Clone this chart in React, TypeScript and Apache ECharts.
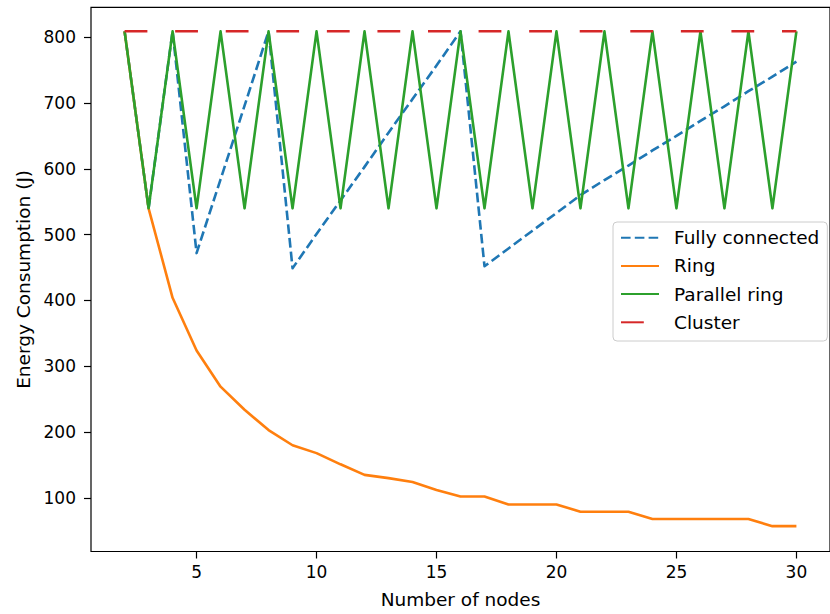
import React, { useEffect, useRef } from "react";
import * as echarts from "echarts";

const nodes = [2, 3, 4, 5, 6, 7, 8, 9, 10, 11, 12, 13, 14, 15, 16, 17, 18, 19, 20, 21, 22, 23, 24, 25, 26, 27, 28, 29, 30];
const fullyConnected = [809, 540, 809, 472, 584, 696, 809, 449, 501, 552, 603, 655, 706, 757, 809, 452, 479, 506, 533, 560, 583, 605, 628, 650, 673, 695, 718, 740, 763];
const ring = [809, 540, 404, 324, 269, 234, 203, 180, 168, 151, 135, 130, 124, 112, 102, 102, 90, 90, 90, 79, 79, 79, 68, 68, 68, 68, 68, 57, 57];
const parallelRing = [809, 540, 809, 540, 809, 540, 809, 540, 809, 540, 809, 540, 809, 540, 809, 540, 809, 540, 809, 540, 809, 540, 809, 540, 809, 540, 809, 540, 809];
const cluster = [809, 809, 809, 809, 809, 809, 809, 809, 809, 809, 809, 809, 809, 809, 809, 809, 809, 809, 809, 809, 809, 809, 809, 809, 809, 809, 809, 809, 809];
const xTicks = [5, 10, 15, 20, 25, 30];
const yTicks = [100, 200, 300, 400, 500, 600, 700, 800];
const seriesNames = ["Fully connected", "Ring", "Parallel ring", "Cluster"];

const FONT = "DejaVu Sans";

export default function App() {
  const ref = useRef<HTMLDivElement>(null);
  useEffect(() => {
    if (!ref.current) return;
    const chart = echarts.init(ref.current, undefined, { renderer: "svg" });
    const pair = (ys: number[]) => nodes.map((x, i) => [x, ys[i]]);
    const lw = 2.6;
    chart.setOption({
      animation: false,
      backgroundColor: "#ffffff",
      grid: {
        left: 91,
        top: 7.3,
        right: -7,
        bottom: 58,
        show: true,
        borderColor: "#000000",
        borderWidth: 1.2,
        backgroundColor: "transparent",
      },
      legend: {
        orient: "vertical",
        left: 613,
        top: 222,
        data: seriesNames,
        itemWidth: 38,
        itemHeight: 20,
        itemGap: 8.2,
        padding: [5.7, 8, 8.7, 7],
        backgroundColor: "rgba(255,255,255,0.8)",
        borderColor: "#cccccc",
        borderWidth: 1,
        borderRadius: 4,
        itemStyle: { opacity: 0 },
        textStyle: {
          fontFamily: FONT,
          fontSize: 18.5,
          color: "#000000",
          lineHeight: 20,
          padding: [0, 0, 0, 10],
        },
      },
      xAxis: {
        type: "value",
        min: 0.6,
        max: 31.4,
        name: "Number of nodes",
        nameLocation: "middle",
        nameGap: 38.5,
        nameTextStyle: { fontFamily: FONT, fontSize: 18.5, color: "#000000" },
        axisLine: { show: false },
        axisTick: { show: true, length: 7, customValues: xTicks, lineStyle: { color: "#000000", width: 1.2 } },
        axisLabel: { customValues: xTicks, margin: 12, fontFamily: FONT, fontSize: 17, color: "#000000" },
        splitLine: { show: false },
      },
      yAxis: {
        type: "value",
        min: 18.5,
        max: 845.5,
        name: "Energy Consumption (J)",
        nameLocation: "middle",
        nameGap: 58,
        nameTextStyle: { fontFamily: FONT, fontSize: 18.5, color: "#000000" },
        axisLine: { show: false },
        axisTick: { show: true, length: 7, customValues: yTicks, lineStyle: { color: "#000000", width: 1.2 } },
        axisLabel: { customValues: yTicks, margin: 15, fontFamily: FONT, fontSize: 17, color: "#000000" },
        splitLine: { show: false },
      },
      series: [
        {
          name: seriesNames[0],
          type: "line",
          data: pair(fullyConnected),
          symbol: "none",
          color: "#1f77b4",
          lineStyle: { width: lw, type: [9.6, 4.2], cap: "butt", join: "round" },
          z: 2,
        },
        {
          name: seriesNames[1],
          type: "line",
          data: pair(ring),
          symbol: "none",
          color: "#ff7f0e",
          lineStyle: { width: lw, type: "solid", cap: "butt", join: "round" },
          z: 3,
        },
        {
          name: seriesNames[2],
          type: "line",
          data: pair(parallelRing),
          symbol: "none",
          color: "#2ca02c",
          lineStyle: { width: lw, type: "solid", cap: "butt", join: "round" },
          z: 4,
        },
        {
          name: seriesNames[3],
          type: "line",
          data: pair(cluster),
          symbol: "none",
          color: "#d62728",
          lineStyle: { width: lw, type: [22.8, 27.77], cap: "butt", join: "round" },
          z: 5,
        },
      ],
    });
    return () => chart.dispose();
  }, []);
  return (
    <div
      ref={ref}
      style={{ position: "absolute", left: 0, top: 0, width: 830, height: 614 }}
    />
  );
}
